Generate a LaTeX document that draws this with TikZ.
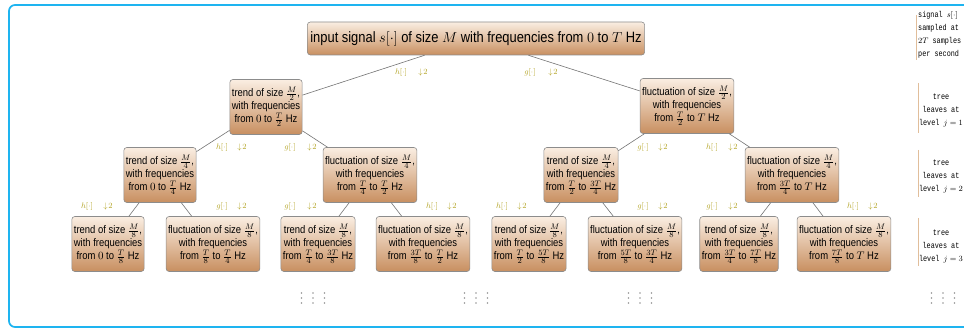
\documentclass[tikz,border=0pt]{standalone}
\usepackage{fontspec}
\setmainfont{Liberation Sans}[FakeStretch=0.86]
\newfontfamily\annfont{Liberation Mono}[FakeStretch=0.8]
\definecolor{frameblue}{RGB}{30,180,240}
\definecolor{nodetop}{RGB}{250,238,226}
\definecolor{nodebot}{RGB}{200,143,96}
\definecolor{lblcol}{RGB}{180,165,40}
\definecolor{bartan}{RGB}{225,190,155}
\definecolor{dotgray}{RGB}{150,150,150}
\tikzset{
 tnode/.style={draw=black!45, rounded corners=3pt, top color=nodetop, bottom color=nodebot,
   align=center, font=\fontsize{11}{13}\selectfont, inner xsep=2pt, inner ysep=1pt,
   minimum height=55pt, line width=0.6pt},
 rootnode/.style={tnode, font=\fontsize{15}{16}\selectfont, minimum height=33pt, inner xsep=3pt},
 conn/.style={draw=black!55, line width=0.6pt},
 lbl/.style={text=lblcol, font=\fontsize{8}{9}\selectfont, inner sep=0pt},
 ann/.style={font=\annfont\fontsize{8.5}{13}\selectfont, inner sep=0pt},
 annbar/.style={draw=bartan, line width=0.8pt},
 dotsty/.style={fill=dotgray, draw=none},
}
\newcommand{\lblpair}[5]{%
  \node[lbl] (#1f) at (#2,#4) {$#5[\cdot]$};
  \node[lbl] (#1d) at (#3,#4) {$\downarrow\!2$};}
\begin{document}
\begin{tikzpicture}[x=1pt,y=-1pt]
\useasboundingbox (0,0) rectangle (964,328);
\clip (0,0) rectangle (964,328);
\draw[frameblue, line width=1.7pt, rounded corners=6pt] (9,5) rectangle (1000,327);

% nodes
\node[rootnode] (root) at (476,38.5) {input signal $s[\cdot]$ of size $M$ with frequencies from $0$ to $T$ Hz};
\node[tnode] (a) at (266,107) {trend of size $\frac{M}{2}$,\\ with frequencies\\ from $0$ to $\frac{T}{2}$ Hz};
\node[tnode] (b) at (687,106) {fluctuation of size $\frac{M}{2}$,\\ with frequencies\\ from $\frac{T}{2}$ to $T$ Hz};

\node[tnode] (aa) at (160,175) {trend of size $\frac{M}{4}$,\\ with frequencies\\ from $0$ to $\frac{T}{4}$ Hz};
\node[tnode] (ab) at (370,175) {fluctuation of size $\frac{M}{4}$,\\ with frequencies\\ from $\frac{T}{4}$ to $\frac{T}{2}$ Hz};
\node[tnode] (ba) at (581,175) {trend of size $\frac{M}{4}$,\\ with frequencies\\ from $\frac{T}{2}$ to $\frac{3T}{4}$ Hz};
\node[tnode] (bb) at (792,175) {fluctuation of size $\frac{M}{4}$,\\ with frequencies\\ from $\frac{3T}{4}$ to $T$ Hz};

\node[tnode] (aaa) at (108,244) {trend of size $\frac{M}{8}$,\\ with frequencies\\ from $0$ to $\frac{T}{8}$ Hz};
\node[tnode] (aab) at (213,244) {fluctuation of size $\frac{M}{8}$,\\ with frequencies\\ from $\frac{T}{8}$ to $\frac{T}{4}$ Hz};
\node[tnode] (aba) at (318,244) {trend of size $\frac{M}{8}$,\\ with frequencies\\ from $\frac{T}{4}$ to $\frac{3T}{8}$ Hz};
\node[tnode] (abb) at (423,244) {fluctuation of size $\frac{M}{8}$,\\ with frequencies\\ from $\frac{3T}{8}$ to $\frac{T}{2}$ Hz};
\node[tnode] (baa) at (529,244) {trend of size $\frac{M}{8}$,\\ with frequencies\\ from $\frac{T}{2}$ to $\frac{5T}{8}$ Hz};
\node[tnode] (bab) at (635,244) {fluctuation of size $\frac{M}{8}$,\\ with frequencies\\ from $\frac{5T}{8}$ to $\frac{3T}{4}$ Hz};
\node[tnode] (bba) at (739,244) {trend of size $\frac{M}{8}$,\\ with frequencies\\ from $\frac{3T}{4}$ to $\frac{7T}{8}$ Hz};
\node[tnode] (bbb) at (844,244) {fluctuation of size $\frac{M}{8}$,\\ with frequencies\\ from $\frac{7T}{8}$ to $T$ Hz};

% connectors
\foreach \p/\c in {root/a,root/b,a/aa,a/ab,b/ba,b/bb,aa/aaa,aa/aab,ab/aba,ab/abb,ba/baa,ba/bab,bb/bba,bb/bbb}
  \draw[conn] (\p) -- (\c);

% labels
\lblpair{la}{401}{423}{73}{h}
\lblpair{lb}{530}{553}{73}{g}
\lblpair{laa}{222}{242}{148}{h}
\lblpair{lab}{290}{312}{148}{g}
\lblpair{lba}{643}{663}{148}{g}
\lblpair{lbb}{712}{733}{148}{h}
\lblpair{laaa}{87}{108}{207}{h}
\lblpair{laab}{222}{242}{207}{g}
\lblpair{laba}{290}{312}{207}{g}
\lblpair{labb}{432}{452}{207}{h}
\lblpair{lbaa}{502}{522}{207}{h}
\lblpair{lbab}{643}{663}{207}{g}
\lblpair{lbba}{712}{733}{207}{g}
\lblpair{lbbb}{853}{873}{207}{h}

% right annotations
\node[ann, align=left, anchor=west] (ann0) at (918,35) {signal $s[\cdot]$\\sampled at\\$2T$ samples\\per second};
\node[ann, align=center] (ann1) at (941,110.5) {tree\\leaves at\\level $j=1$};
\node[ann, align=center] (ann2) at (941,176.5) {tree\\leaves at\\level $j=2$};
\node[ann, align=center] (ann3) at (941,246.5) {tree\\leaves at\\level $j=3$};
\draw[annbar] (916,15) -- (916,60);
\draw[annbar] (918,83) -- (918,133);
\draw[annbar] (918,150) -- (918,197);
\draw[annbar] (918,218) -- (918,266);

% dots
\foreach \cx in {313,476,640,943}
  \foreach \dx in {-11.5,0,11.5}
    \foreach \yy in {293,298,303}
      \fill[dotsty] (\cx+\dx,\yy) circle (0.9);
\end{tikzpicture}
\end{document}
